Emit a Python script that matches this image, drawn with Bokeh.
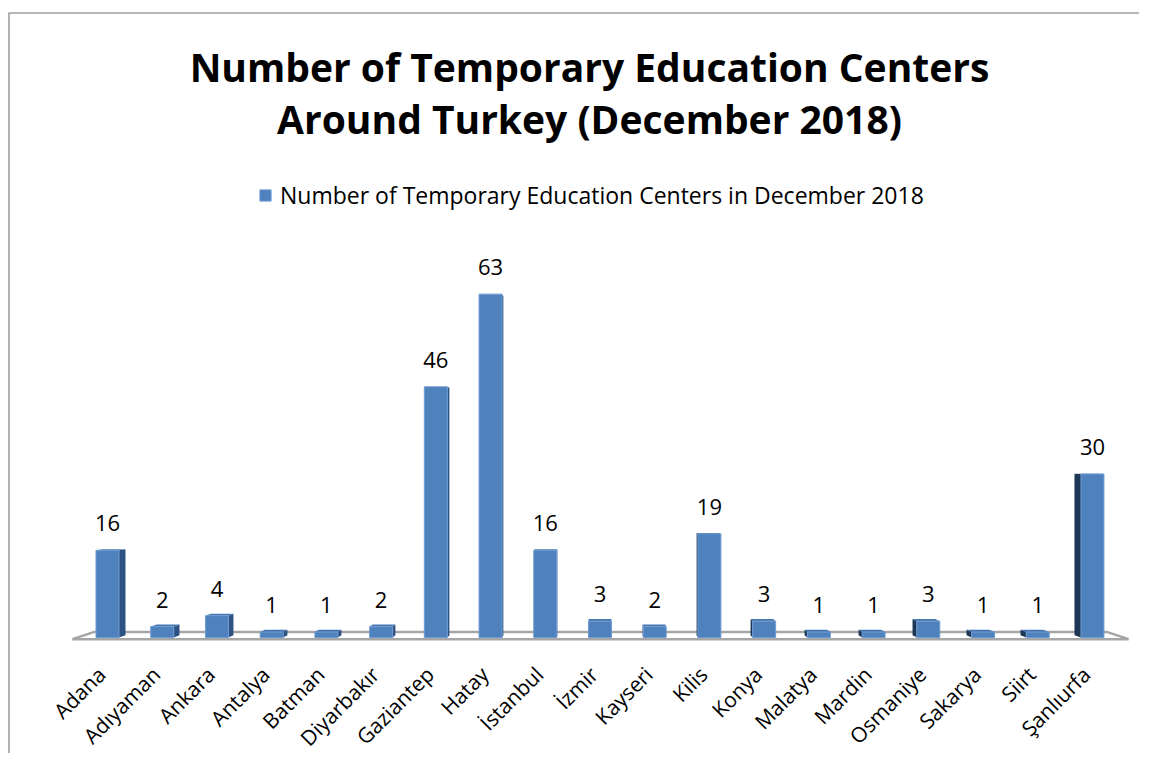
import numpy as np
from bokeh.plotting import figure
from bokeh.models import Range1d, Legend, LegendItem, ColumnDataSource
from bokeh.core.properties import value
from bokeh.embed import file_html
from bokeh.resources import INLINE

# ---------------- data ----------------
categories = ["Adana", "Adıyaman", "Ankara", "Antalya", "Batman", "Diyarbakır",
              "Gaziantep", "Hatay", "İstanbul", "İzmir", "Kayseri", "Kilis",
              "Konya", "Malatya", "Mardin", "Osmaniye", "Sakarya", "Siirt",
              "Şanlıurfa"]
counts = [16, 2, 4, 1, 1, 2, 46, 63, 16, 3, 2, 19, 3, 1, 1, 3, 1, 1, 30]
title_lines = ["Number of Temporary Education Centers",
               "Around Turkey (December 2018)"]
series_name = "Number of Temporary Education Centers in December 2018"

# ---------------- layout helpers (canvas px -> data) ----------------
W, H = 1139, 753
X0PX, XS = 107.0, 54.72    # canvas x of first category, px per category
Y0PX, YS = 637.0, 5.45     # canvas y of value 0, px per unit


def dx(px):
    return (px - X0PX) / XS


def dy(py):
    return (Y0PX - py) / YS


FONT = "Open Sans"
FRONT = "#4F81BD"
SIDE_R = "#2E5383"
SIDE_L = "#1E3656"
TOP = "#4676B2"
FLOOR = "#A6A6A6"

p = figure(width=W, height=H,
           x_range=Range1d(dx(0), dx(W)), y_range=Range1d(dy(H), dy(0)),
           output_backend="svg", toolbar_location=None, min_border=0,
           x_axis_location=None, y_axis_location=None,
           outline_line_color=None, background_fill_color="white",
           border_fill_color="white")
p.grid.visible = False

n = len(categories)
xs = np.arange(n, dtype=float)
half = 0.21
VX, VY = dx(600), 31.9     # vanishing point for the 3D effect
KB, KF = 0.0135, 0.04      # depth factors: bars, floor


def back(x, y, k):
    return x + k * (VX - x), y + k * (VY - y)


# floor
fl, fr, fy = -0.64, (n - 1) + 0.66, -0.3
bl = back(fl, fy, KF)
br = back(fr, fy, KF)
p.patch([fl, fr, br[0], bl[0]], [fy, fy, br[1], bl[1]],
        fill_color="white", line_color=FLOOR, line_width=2.5)

# side and top faces
side_x, side_y, side_c = [], [], []
top_x, top_y = [], []
for i, v in enumerate(counts):
    xl, xr = xs[i] - half, xs[i] + half
    edge = None
    if xr < VX:
        edge, col = xr, SIDE_R
    elif xl > VX:
        edge, col = xl, SIDE_L
    if edge is not None:
        b1 = back(edge, v, KB)
        b0 = back(edge, 0, KB)
        side_x.append([edge, edge, b1[0], b0[0]])
        side_y.append([0, v, b1[1], b0[1]])
        side_c.append(col)
    if v < VY:
        t1 = back(xr, v, KB)
        t0 = back(xl, v, KB)
        top_x.append([xl, xr, t1[0], t0[0]])
        top_y.append([v, v, t1[1], t0[1]])
p.patches(side_x, side_y, fill_color=side_c, line_color=None)
p.patches(top_x, top_y, fill_color=TOP, line_color=None)

src = ColumnDataSource(dict(x=xs, top=counts, cat=categories,
                            lab=[str(c) for c in counts]))
bars = p.vbar(x="x", top="top", bottom=0, width=2 * half, source=src,
              fill_color=FRONT, line_color="#6F9BD3", line_width=1)

# data labels
p.text(x="x", y="top", text="lab", source=src, text_align="center",
       text_baseline="middle", y_offset=-27, text_font=value(FONT),
       text_font_size="22px", text_color="black")

# category labels
p.text(x="x", y=dy(670), text="cat", source=src, x_offset=-6,
       angle=np.pi / 4, text_align="right", text_baseline="middle",
       text_font=value(FONT), text_font_size="21px", text_color="black")

# title
p.text(x=[dx(589)] * 2, y=[dy(66), dy(118)], text=title_lines,
       text_align="center", text_baseline="middle", text_font=value(FONT),
       text_font_size="39px", text_font_style="bold", text_color="black")

# chart border (left and top visible)
p.segment(x0=[dx(8.5), dx(8)], y0=[dy(H), dy(12.5)],
          x1=[dx(8.5), dx(W)], y1=[dy(12.5), dy(12.5)],
          line_color="#A0A0A0", line_width=1.6)

legend = Legend(items=[LegendItem(label=series_name, renderers=[bars])],
                location=(258, 542), orientation="horizontal",
                glyph_width=14, glyph_height=14, label_standoff=8,
                label_text_font=FONT, label_text_font_size="23px",
                label_text_color="black",
                padding=0, margin=0, border_line_color=None,
                background_fill_alpha=0)
p.add_layout(legend)

open("out.html", "w").write(file_html(p, INLINE))
